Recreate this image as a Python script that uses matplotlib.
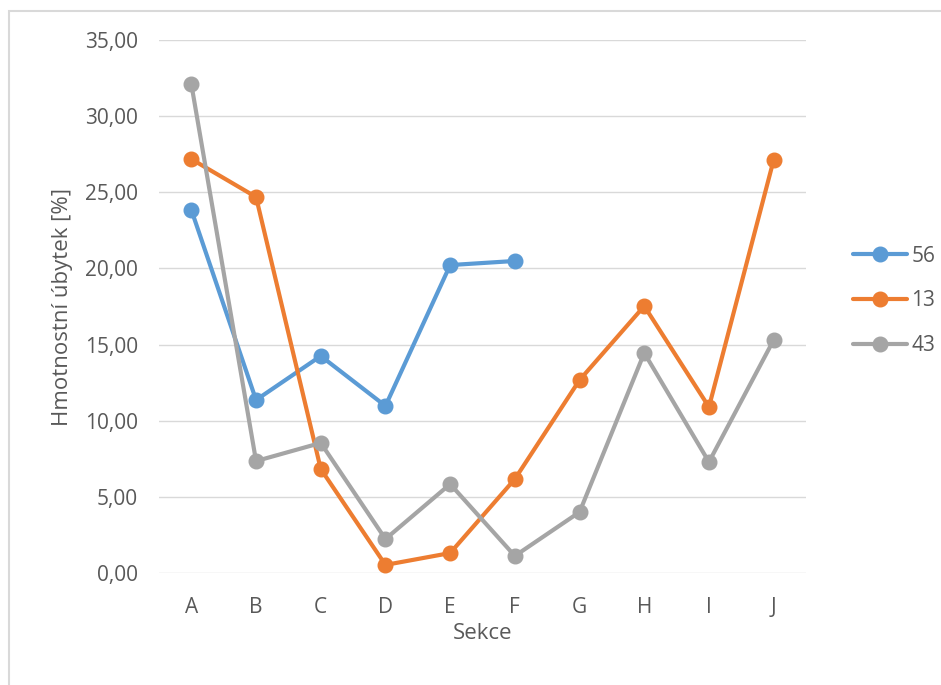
import numpy as np
import matplotlib.pyplot as plt
from matplotlib.patches import Rectangle

sekce = ["A", "B", "C", "D", "E", "F", "G", "H", "I", "J"]
s56 = [23.84, 11.36, 14.25, 10.97, 20.22, 20.49]
s13 = [27.18, 24.69, 6.83, 0.53, 1.31, 6.17, 12.67, 17.53, 10.90, 27.12]
s43 = [32.10, 7.35, 8.54, 2.23, 5.84, 1.12, 4.00, 14.45, 7.29, 15.30]

plt.rcParams['font.family'] = ['Open Sans', 'DejaVu Sans']
txt = '#595959'
fs = 15

fig = plt.figure(figsize=(9.41, 6.85), dpi=100)
fig.patches.append(Rectangle((8.5 / 941, -0.1), 1.2, 1 - 11 / 685 + 0.1,
                             transform=fig.transFigure, fill=False,
                             edgecolor='#d9d9d9', linewidth=1.5))

ax = fig.add_axes([159 / 941, 1 - 573 / 685, (806 - 159) / 941, (573 - 40) / 685])

x = np.arange(len(sekce))
ax.plot(x[:len(s56)], s56, color='#5B9BD5', lw=3, marker='o', ms=10.5, label='56',
        solid_capstyle='round')
ax.plot(x, s13, color='#ED7D31', lw=3, marker='o', ms=10.5, label='13',
        solid_capstyle='round')
ax.plot(x, s43, color='#A5A5A5', lw=3, marker='o', ms=10.5, label='43',
        solid_capstyle='round')

ax.set_xlim(-0.5, len(sekce) - 0.5)
ax.set_ylim(0, 35)
ax.set_yticks(np.arange(0, 36, 5))
ax.set_yticklabels([f"{v:.2f}".replace('.', ',') for v in np.arange(0, 36, 5)])
ax.set_xticks(x)
ax.set_xticklabels(sekce)
ax.grid(axis='y', color='#d9d9d9', lw=1)
ax.set_axisbelow(True)
for sp in ax.spines.values():
    sp.set_visible(False)
ax.tick_params(length=0, labelsize=fs, colors=txt)
ax.tick_params(axis='y', pad=15)
ax.tick_params(axis='x', pad=17)

ax.set_xlabel('Sekce', fontsize=16, color=txt, labelpad=4)
ax.set_ylabel('Hmotnostní úbytek [%]', fontsize=16, color=txt, labelpad=9)

leg = fig.legend(loc='center left', bbox_to_anchor=(853 / 941, 1 - 301 / 685),
                 frameon=False, fontsize=fs, handlelength=2.6, handletextpad=0.2,
                 labelspacing=1.15, borderpad=0, borderaxespad=0)
for t in leg.get_texts():
    t.set_color(txt)

fig.savefig('out.png', dpi=100)
